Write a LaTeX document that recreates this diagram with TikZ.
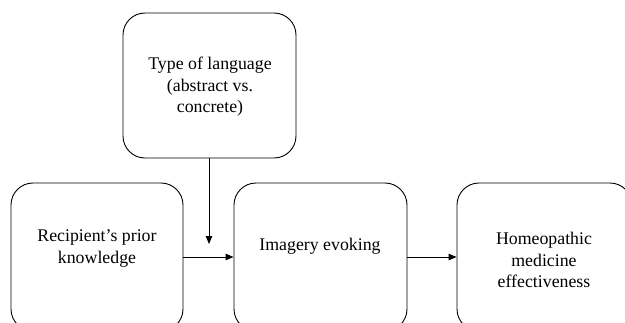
\documentclass[tikz,border=0pt]{standalone}
\usepackage{fontspec}
\setmainfont{Liberation Serif}
\usetikzlibrary{arrows.meta}
\begin{document}
\begin{tikzpicture}[x=1pt,y=-1pt,
  box/.style={draw,line width=0.9pt,rounded corners=22pt,inner sep=0pt},
  lbl/.style={align=center,font=\fontsize{17.8}{21.5}\selectfont,inner sep=0pt},
  arr/.style={line width=0.9pt,-{Triangle[length=8pt,width=6.5pt]}}]
\useasboundingbox (0,0) rectangle (625,322);
\clip (0,0) rectangle (625,322);
\node[box,minimum width=173pt,minimum height=145pt] (top) at (209.5,85.5) {};
\node[box,minimum width=172pt,minimum height=148pt] (left) at (97,257) {};
\node[box,minimum width=173pt,minimum height=148pt] (mid) at (320.5,257) {};
\node[box,minimum width=175pt,minimum height=148pt] (right) at (544.5,257) {};
\node[lbl] (ttop) at (210,87) {Type of language\\(abstract vs.\\concrete)};
\node[lbl] (tleft) at (97,248.5) {Recipient’s prior\\knowledge};
\node[lbl] (tmid) at (320,246.5) {Imagery evoking};
\node[lbl] (tright) at (544,260) {Homeopathic\\medicine\\effectiveness};
\coordinate (vend) at (209,244);
\draw[arr] (top.south -| vend) -- (vend);
\draw[arr] (left.east) -- (mid.west);
\draw[arr] (mid.east) -- (right.west);
\end{tikzpicture}
\end{document}
